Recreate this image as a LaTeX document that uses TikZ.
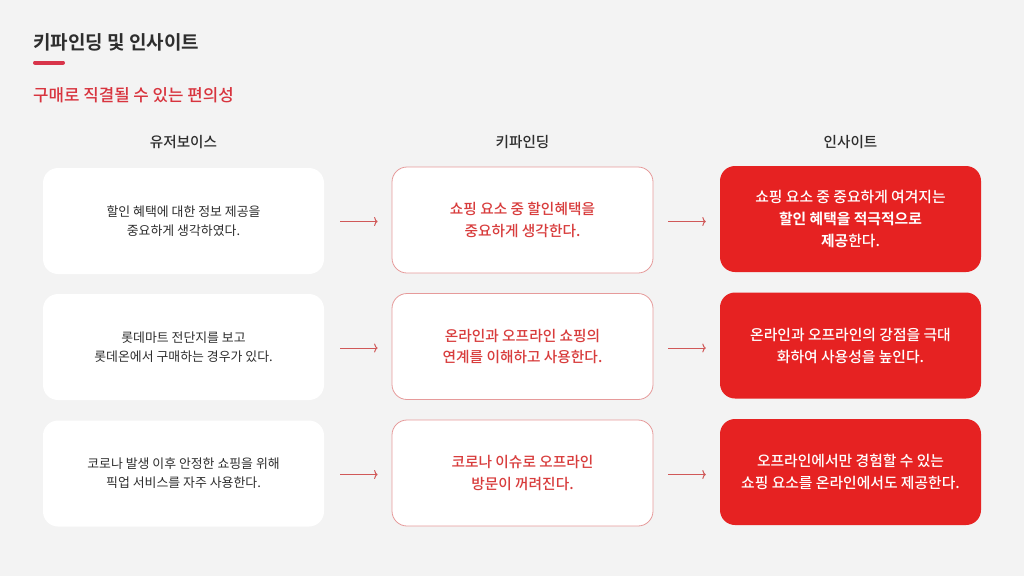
\documentclass[tikz,border=0pt]{standalone}
\usepackage{fontspec}
\usetikzlibrary{arrows.meta}
\setmainfont{Noto Sans CJK KR}
\IfFontExistsTF{Noto Sans CJK KR Medium}
  {\newfontfamily\krmed{Noto Sans CJK KR Medium}}
  {\newfontfamily\krmed{Noto Sans CJK KR}}
\IfFontExistsTF{Noto Sans CJK KR Bold}
  {\newfontfamily\krbold{Noto Sans CJK KR Bold}}
  {\newfontfamily\krbold{Noto Sans CJK KR}[FakeBold=2]}
\definecolor{bg}{HTML}{F3F3F3}
\definecolor{dark}{HTML}{2E2E2E}
\definecolor{accent}{HTML}{D8343E}
\definecolor{midtext}{HTML}{D83C3C}
\definecolor{midborder}{HTML}{E69A9A}
\definecolor{boxred}{HTML}{E62222}
\definecolor{arrowcol}{HTML}{D05858}
\definecolor{bar}{HTML}{D8344A}
\tikzset{
  basebox/.style={rounded corners=15pt, minimum height=106pt, align=center, inner sep=0pt},
  voicebox/.style={basebox, fill=white, minimum width=281pt, text=dark,
    font=\fontsize{12.9}{19}\selectfont},
  findbox/.style={basebox, fill=white, draw=midborder, line width=0.8pt, minimum width=261pt,
    text=midtext, font=\krmed\fontsize{14.7}{21.5}\selectfont},
  insightbox/.style={basebox, fill=boxred, minimum width=261pt, text=white,
    font=\krmed\fontsize{14.8}{22}\selectfont},
  header/.style={anchor=base, text=dark, font=\krmed\fontsize{14.6}{16}\selectfont},
  arr/.style={draw=arrowcol, line width=1pt, -{To[length=3.5pt,width=9pt]}},
}
\begin{document}
\begin{tikzpicture}[x=1pt,y=-1pt]
\fill[bg] (0,0) rectangle (1024,576);
\useasboundingbox (0,0) rectangle (1024,576);

\node[anchor=base west, inner sep=0pt, text=dark, font=\krbold\fontsize{19}{22}\selectfont] (title) at (33,49.5) {키파인딩 및 인사이트};
\draw[bar, line width=4pt, line cap=round] (35,62.5) -- (63,62.5);
\node[anchor=base west, inner sep=0pt, text=accent, font=\krmed\fontsize{16.8}{19}\selectfont] (subtitle) at (33,101.5) {구매로 직결될 수 있는 편의성};

\node[header] (h1) at (183.5,147) {유저보이스};
\node[header] (h2) at (522.5,147) {키파인딩};
\node[header] (h3) at (850.5,147) {인사이트};

\node[voicebox] (l1) at (183.5,221) {할인 혜택에 대한 정보 제공을\\중요하게 생각하였다.};
\node[voicebox] (l2) at (183.5,347) {롯데마트 전단지를 보고\\롯데온에서 구매하는 경우가 있다.};
\node[voicebox] (l3) at (183.5,473.5) {코로나 발생 이후 안정한 쇼핑을 위해\\픽업 서비스를 자주 사용한다.};

\node[findbox] (m1) at (522.5,220) {쇼핑 요소 중 할인혜택을\\중요하게 생각한다.};
\node[findbox] (m2) at (522.5,346.5) {온라인과 오프라인 쇼핑의\\연계를 이해하고 사용한다.};
\node[findbox] (m3) at (522.5,473) {코로나 이슈로 오프라인\\방문이 꺼려진다.};

\node[insightbox] (r1) at (850.5,219) {쇼핑 요소 중 중요하게 여겨지는\\{\krbold 할인 혜택을 적극적으로}\\{\krbold 제공}한다.};
\node[insightbox] (r2) at (850.5,345.5) {온라인과 오프라인의 강점을 극대\\화하여 사용성을 높인다.};
\node[insightbox] (r3) at (850.5,472) {오프라인에서만 경험할 수 있는\\쇼핑 요소를 온라인에서도 제공한다.};

\foreach \i in {1,2,3}{
  \draw[arr, shorten <=16pt, shorten >=14pt] ([yshift=-1.5pt]m\i.west -| l\i.east) -- ([yshift=-1.5pt]m\i.west);
  \draw[arr, shorten <=15pt, shorten >=14pt] ([yshift=-1.5pt]m\i.east) -- ([yshift=-1.5pt]m\i.east -| r\i.west);
}
\end{tikzpicture}
\end{document}
